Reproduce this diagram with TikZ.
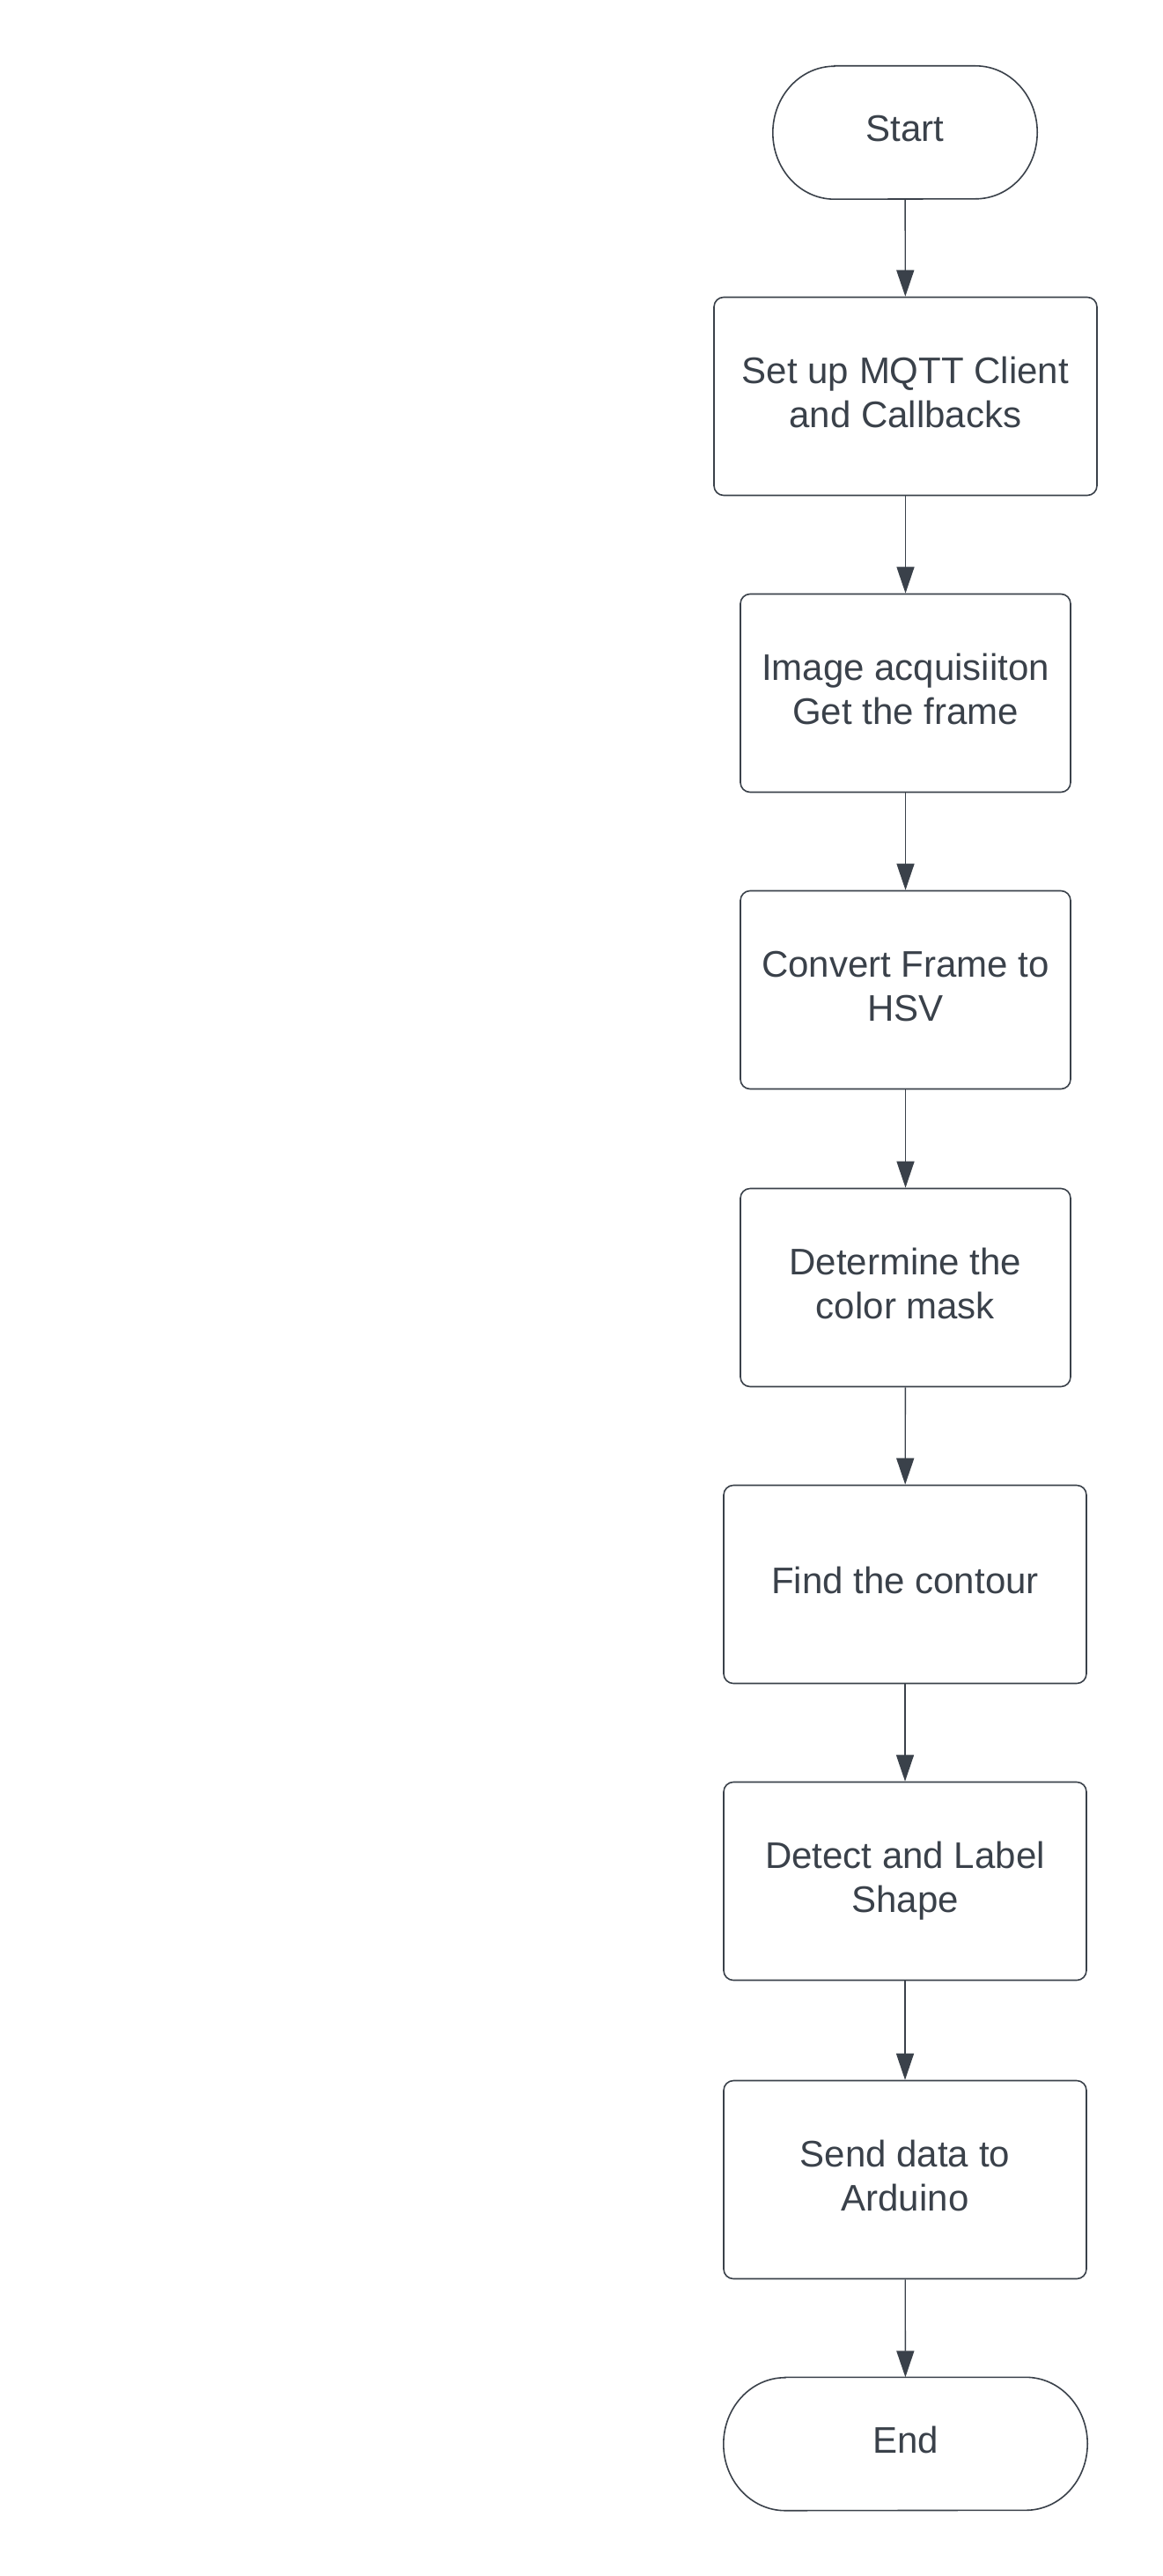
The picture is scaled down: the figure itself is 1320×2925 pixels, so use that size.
\documentclass[tikz,border=0pt]{standalone}
\usepackage{fontspec}
\setmainfont{Liberation Sans}
\usetikzlibrary{arrows.meta,calc}
\definecolor{ink}{HTML}{3A414A}
\newcommand{\lifttext}[1]{\raisebox{6pt}{\begin{tabular}{@{}c@{}}#1\end{tabular}}}
\tikzset{
  every node/.style={font=\fontsize{42}{50}\selectfont, text=ink, align=center},
  stepbox/.style={draw=ink, line width=1.6pt, rounded corners=11pt, minimum height=225pt, inner sep=0pt},
  termnode/.style={minimum height=151pt, inner sep=0pt},
  termline/.style={draw=ink, line width=1.6pt},
  flow/.style={draw=ink, line width=1.4pt, -{Triangle[width=20pt,length=30pt]}}
}
\newcommand{\termshape}[2]{%
  \draw[termline] ($(#1.north west)+(#2,0)$) -- ($(#1.north east)+(-#2,0)$)
    arc[start angle=90,end angle=-90,x radius=#2,y radius=75.5pt]
    -- ($(#1.south west)+(#2,0)$)
    arc[start angle=270,end angle=90,x radius=#2,y radius=75.5pt] -- cycle;}
\begin{document}
\begin{tikzpicture}
\useasboundingbox (0,0) rectangle (1320pt,-2925pt);
\node[termnode, minimum width=300pt] (start) at (1028pt,-150.5pt) {\lifttext{Start}};
\termshape{start}{70pt}
\node[stepbox, minimum width=435pt] (b1) at (1028.5pt,-450pt) {\lifttext{Set up MQTT Client\\and Callbacks}};
\node[stepbox, minimum width=375pt] (b2) at (1028.5pt,-787pt) {\lifttext{Image acquisiiton\\Get the frame}};
\node[stepbox, minimum width=375pt] (b3) at (1028.5pt,-1124pt) {\lifttext{Convert Frame to\\HSV}};
\node[stepbox, minimum width=375pt] (b4) at (1028.5pt,-1462pt) {\lifttext{Determine the\\color mask}};
\node[stepbox, minimum width=412pt] (b5) at (1028pt,-1799pt) {\lifttext{Find the contour}};
\node[stepbox, minimum width=412pt] (b6) at (1028pt,-2136pt) {\lifttext{Detect and Label\\Shape}};
\node[stepbox, minimum width=412pt] (b7) at (1028pt,-2475pt) {\lifttext{Send data to\\Arduino}};
\node[termnode, minimum width=413pt] (end) at (1028.5pt,-2775pt) {\lifttext{End}};
\termshape{end}{70pt}
\draw[flow] (start) -- (b1);
\draw[flow] (b1) -- (b2);
\draw[flow] (b2) -- (b3);
\draw[flow] (b3) -- (b4);
\draw[flow] (b4) -- (b5);
\draw[flow] (b5) -- (b6);
\draw[flow] (b6) -- (b7);
\draw[flow] (b7) -- (end);
\end{tikzpicture}
\end{document}
